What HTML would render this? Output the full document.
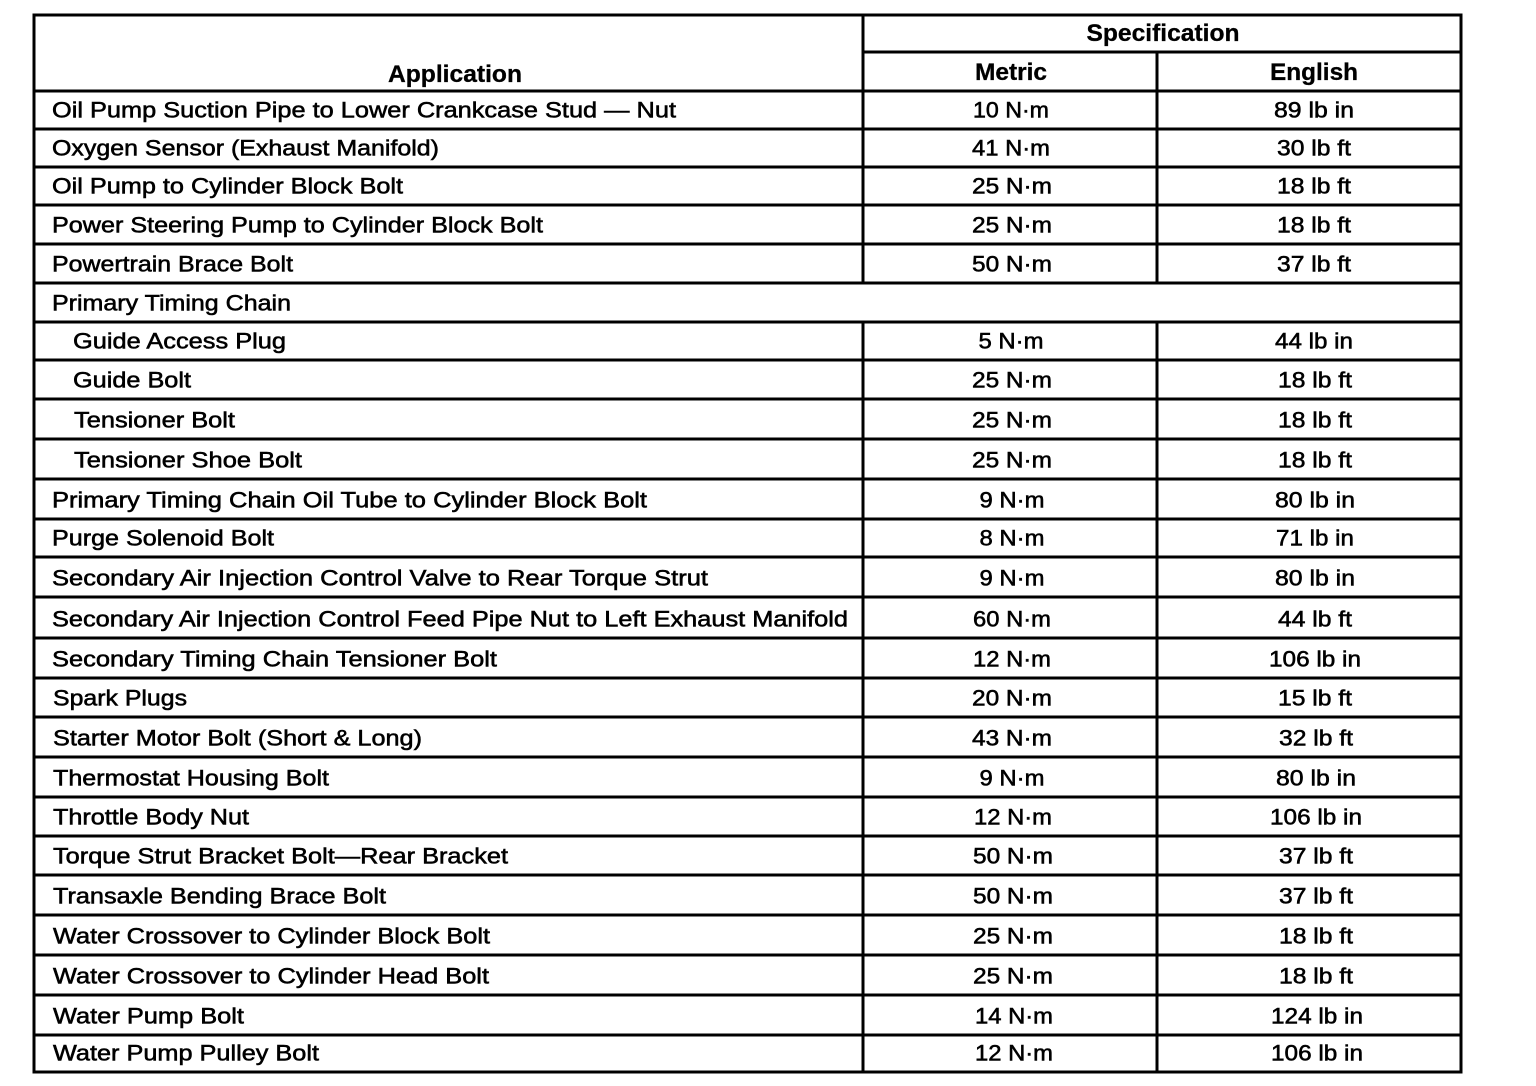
<!DOCTYPE html>
<html>
<head>
<meta charset="utf-8">
<style>
html,body{margin:0;padding:0;background:#fff;}
svg{display:block;}
text{font-family:"Liberation Sans",Arial,sans-serif;fill:#000;}
.t{font-size:22px;stroke:#000;stroke-width:0.55;}
.h{font-size:24px;font-weight:bold;stroke:#000;stroke-width:0.3;}
</style>
</head>
<body>
<svg width="1536" height="1086" viewBox="0 0 1536 1086" xmlns="http://www.w3.org/2000/svg">
<rect width="1536" height="1086" fill="#fff"/>
<g stroke="#000" stroke-width="3" fill="none">
  <line x1="34" y1="15" x2="1461" y2="15"/>
  <line x1="34" y1="13.5" x2="34" y2="1073.5"/>
  <line x1="1461" y1="13.5" x2="1461" y2="1073.5"/>
  <line x1="34" y1="1072" x2="1461" y2="1072"/>
  <line x1="863" y1="52" x2="1461" y2="52"/>
  <line x1="34" y1="91" x2="1461" y2="91"/>
  <line x1="34" y1="129" x2="1461" y2="129"/>
  <line x1="34" y1="167" x2="1461" y2="167"/>
  <line x1="34" y1="205" x2="1461" y2="205"/>
  <line x1="34" y1="244" x2="1461" y2="244"/>
  <line x1="34" y1="283" x2="1461" y2="283"/>
  <line x1="34" y1="322" x2="1461" y2="322"/>
  <line x1="34" y1="360" x2="1461" y2="360"/>
  <line x1="34" y1="399" x2="1461" y2="399"/>
  <line x1="34" y1="439" x2="1461" y2="439"/>
  <line x1="34" y1="479" x2="1461" y2="479"/>
  <line x1="34" y1="519" x2="1461" y2="519"/>
  <line x1="34" y1="557" x2="1461" y2="557"/>
  <line x1="34" y1="597" x2="1461" y2="597"/>
  <line x1="34" y1="638" x2="1461" y2="638"/>
  <line x1="34" y1="678" x2="1461" y2="678"/>
  <line x1="34" y1="717" x2="1461" y2="717"/>
  <line x1="34" y1="757" x2="1461" y2="757"/>
  <line x1="34" y1="797" x2="1461" y2="797"/>
  <line x1="34" y1="836" x2="1461" y2="836"/>
  <line x1="34" y1="875" x2="1461" y2="875"/>
  <line x1="34" y1="915" x2="1461" y2="915"/>
  <line x1="34" y1="955" x2="1461" y2="955"/>
  <line x1="34" y1="995" x2="1461" y2="995"/>
  <line x1="34" y1="1035" x2="1461" y2="1035"/>
  <line x1="863" y1="15" x2="863" y2="283"/>
  <line x1="863" y1="322" x2="863" y2="1072"/>
  <line x1="1157" y1="52" x2="1157" y2="283"/>
  <line x1="1157" y1="322" x2="1157" y2="1072"/>
</g>

<text class="h" x="1163" y="41" text-anchor="middle" textLength="153" lengthAdjust="spacingAndGlyphs">Specification</text>
<text class="h" x="455" y="82" text-anchor="middle" textLength="134" lengthAdjust="spacingAndGlyphs">Application</text>
<text class="h" x="1011" y="80" text-anchor="middle" textLength="72" lengthAdjust="spacingAndGlyphs">Metric</text>
<text class="h" x="1314" y="80" text-anchor="middle" textLength="88" lengthAdjust="spacingAndGlyphs">English</text>

<g>
<text class="t" x="52" y="117.5" textLength="624" lengthAdjust="spacingAndGlyphs">Oil Pump Suction Pipe to Lower Crankcase Stud — Nut</text>
<text class="t" x="52" y="155.5" textLength="387" lengthAdjust="spacingAndGlyphs">Oxygen Sensor (Exhaust Manifold)</text>
<text class="t" x="52" y="193.5" textLength="351" lengthAdjust="spacingAndGlyphs">Oil Pump to Cylinder Block Bolt</text>
<text class="t" x="52" y="232.5" textLength="491" lengthAdjust="spacingAndGlyphs">Power Steering Pump to Cylinder Block Bolt</text>
<text class="t" x="52" y="271.5" textLength="241" lengthAdjust="spacingAndGlyphs">Powertrain Brace Bolt</text>
<text class="t" x="52" y="310.5" textLength="239" lengthAdjust="spacingAndGlyphs">Primary Timing Chain</text>
<text class="t" x="73" y="348.5" textLength="213" lengthAdjust="spacingAndGlyphs">Guide Access Plug</text>
<text class="t" x="73" y="387.5" textLength="118" lengthAdjust="spacingAndGlyphs">Guide Bolt</text>
<text class="t" x="74" y="427.5" textLength="161" lengthAdjust="spacingAndGlyphs">Tensioner Bolt</text>
<text class="t" x="74" y="467.5" textLength="228" lengthAdjust="spacingAndGlyphs">Tensioner Shoe Bolt</text>
<text class="t" x="52" y="507.5" textLength="595" lengthAdjust="spacingAndGlyphs">Primary Timing Chain Oil Tube to Cylinder Block Bolt</text>
<text class="t" x="52" y="545.5" textLength="222" lengthAdjust="spacingAndGlyphs">Purge Solenoid Bolt</text>
<text class="t" x="52" y="585.5" textLength="656" lengthAdjust="spacingAndGlyphs">Secondary Air Injection Control Valve to Rear Torque Strut</text>
<text class="t" x="52" y="626.5" textLength="796" lengthAdjust="spacingAndGlyphs">Secondary Air Injection Control Feed Pipe Nut to Left Exhaust Manifold</text>
<text class="t" x="52" y="666.5" textLength="445" lengthAdjust="spacingAndGlyphs">Secondary Timing Chain Tensioner Bolt</text>
<text class="t" x="53" y="705.5" textLength="134" lengthAdjust="spacingAndGlyphs">Spark Plugs</text>
<text class="t" x="53" y="745.5" textLength="369" lengthAdjust="spacingAndGlyphs">Starter Motor Bolt (Short &amp; Long)</text>
<text class="t" x="53" y="785.5" textLength="276" lengthAdjust="spacingAndGlyphs">Thermostat Housing Bolt</text>
<text class="t" x="53" y="824.5" textLength="196" lengthAdjust="spacingAndGlyphs">Throttle Body Nut</text>
<text class="t" x="53" y="863.5" textLength="455" lengthAdjust="spacingAndGlyphs">Torque Strut Bracket Bolt—Rear Bracket</text>
<text class="t" x="53" y="903.5" textLength="333" lengthAdjust="spacingAndGlyphs">Transaxle Bending Brace Bolt</text>
<text class="t" x="53" y="943.5" textLength="437" lengthAdjust="spacingAndGlyphs">Water Crossover to Cylinder Block Bolt</text>
<text class="t" x="53" y="983.5" textLength="436" lengthAdjust="spacingAndGlyphs">Water Crossover to Cylinder Head Bolt</text>
<text class="t" x="53" y="1023.5" textLength="191" lengthAdjust="spacingAndGlyphs">Water Pump Bolt</text>
<text class="t" x="53" y="1060.5" textLength="266" lengthAdjust="spacingAndGlyphs">Water Pump Pulley Bolt</text>
</g>

<g text-anchor="middle">
<text class="t" x="1011" y="117.5" textLength="76" lengthAdjust="spacingAndGlyphs">10 N·m</text>
<text class="t" x="1011" y="155.5" textLength="78" lengthAdjust="spacingAndGlyphs">41 N·m</text>
<text class="t" x="1012" y="193.5" textLength="80" lengthAdjust="spacingAndGlyphs">25 N·m</text>
<text class="t" x="1012" y="232.5" textLength="80" lengthAdjust="spacingAndGlyphs">25 N·m</text>
<text class="t" x="1012" y="271.5" textLength="80" lengthAdjust="spacingAndGlyphs">50 N·m</text>
<text class="t" x="1011" y="348.5" textLength="65" lengthAdjust="spacingAndGlyphs">5 N·m</text>
<text class="t" x="1012" y="387.5" textLength="80" lengthAdjust="spacingAndGlyphs">25 N·m</text>
<text class="t" x="1012" y="427.5" textLength="80" lengthAdjust="spacingAndGlyphs">25 N·m</text>
<text class="t" x="1012" y="467.5" textLength="80" lengthAdjust="spacingAndGlyphs">25 N·m</text>
<text class="t" x="1012" y="507.5" textLength="65" lengthAdjust="spacingAndGlyphs">9 N·m</text>
<text class="t" x="1012" y="545.5" textLength="65" lengthAdjust="spacingAndGlyphs">8 N·m</text>
<text class="t" x="1012" y="585.5" textLength="65" lengthAdjust="spacingAndGlyphs">9 N·m</text>
<text class="t" x="1012" y="626.5" textLength="78" lengthAdjust="spacingAndGlyphs">60 N·m</text>
<text class="t" x="1012" y="666.5" textLength="78" lengthAdjust="spacingAndGlyphs">12 N·m</text>
<text class="t" x="1012" y="705.5" textLength="80" lengthAdjust="spacingAndGlyphs">20 N·m</text>
<text class="t" x="1012" y="745.5" textLength="80" lengthAdjust="spacingAndGlyphs">43 N·m</text>
<text class="t" x="1012" y="785.5" textLength="65" lengthAdjust="spacingAndGlyphs">9 N·m</text>
<text class="t" x="1013" y="824.5" textLength="78" lengthAdjust="spacingAndGlyphs">12 N·m</text>
<text class="t" x="1013" y="863.5" textLength="80" lengthAdjust="spacingAndGlyphs">50 N·m</text>
<text class="t" x="1013" y="903.5" textLength="80" lengthAdjust="spacingAndGlyphs">50 N·m</text>
<text class="t" x="1013" y="943.5" textLength="80" lengthAdjust="spacingAndGlyphs">25 N·m</text>
<text class="t" x="1013" y="983.5" textLength="80" lengthAdjust="spacingAndGlyphs">25 N·m</text>
<text class="t" x="1014" y="1023.5" textLength="78" lengthAdjust="spacingAndGlyphs">14 N·m</text>
<text class="t" x="1014" y="1060.5" textLength="78" lengthAdjust="spacingAndGlyphs">12 N·m</text>
</g>

<g text-anchor="middle">
<text class="t" x="1314" y="117.5" textLength="80" lengthAdjust="spacingAndGlyphs">89 lb in</text>
<text class="t" x="1314" y="155.5" textLength="74" lengthAdjust="spacingAndGlyphs">30 lb ft</text>
<text class="t" x="1314" y="193.5" textLength="74" lengthAdjust="spacingAndGlyphs">18 lb ft</text>
<text class="t" x="1314" y="232.5" textLength="74" lengthAdjust="spacingAndGlyphs">18 lb ft</text>
<text class="t" x="1314" y="271.5" textLength="74" lengthAdjust="spacingAndGlyphs">37 lb ft</text>
<text class="t" x="1314" y="348.5" textLength="78" lengthAdjust="spacingAndGlyphs">44 lb in</text>
<text class="t" x="1315" y="387.5" textLength="74" lengthAdjust="spacingAndGlyphs">18 lb ft</text>
<text class="t" x="1315" y="427.5" textLength="74" lengthAdjust="spacingAndGlyphs">18 lb ft</text>
<text class="t" x="1315" y="467.5" textLength="74" lengthAdjust="spacingAndGlyphs">18 lb ft</text>
<text class="t" x="1315" y="507.5" textLength="80" lengthAdjust="spacingAndGlyphs">80 lb in</text>
<text class="t" x="1315" y="545.5" textLength="78" lengthAdjust="spacingAndGlyphs">71 lb in</text>
<text class="t" x="1315" y="585.5" textLength="80" lengthAdjust="spacingAndGlyphs">80 lb in</text>
<text class="t" x="1315" y="626.5" textLength="74" lengthAdjust="spacingAndGlyphs">44 lb ft</text>
<text class="t" x="1315" y="666.5" textLength="92" lengthAdjust="spacingAndGlyphs">106 lb in</text>
<text class="t" x="1315" y="705.5" textLength="74" lengthAdjust="spacingAndGlyphs">15 lb ft</text>
<text class="t" x="1316" y="745.5" textLength="74" lengthAdjust="spacingAndGlyphs">32 lb ft</text>
<text class="t" x="1316" y="785.5" textLength="80" lengthAdjust="spacingAndGlyphs">80 lb in</text>
<text class="t" x="1316" y="824.5" textLength="92" lengthAdjust="spacingAndGlyphs">106 lb in</text>
<text class="t" x="1316" y="863.5" textLength="74" lengthAdjust="spacingAndGlyphs">37 lb ft</text>
<text class="t" x="1316" y="903.5" textLength="74" lengthAdjust="spacingAndGlyphs">37 lb ft</text>
<text class="t" x="1316" y="943.5" textLength="74" lengthAdjust="spacingAndGlyphs">18 lb ft</text>
<text class="t" x="1316" y="983.5" textLength="74" lengthAdjust="spacingAndGlyphs">18 lb ft</text>
<text class="t" x="1317" y="1023.5" textLength="92" lengthAdjust="spacingAndGlyphs">124 lb in</text>
<text class="t" x="1317" y="1060.5" textLength="92" lengthAdjust="spacingAndGlyphs">106 lb in</text>
</g>
</svg>
</body>
</html>
